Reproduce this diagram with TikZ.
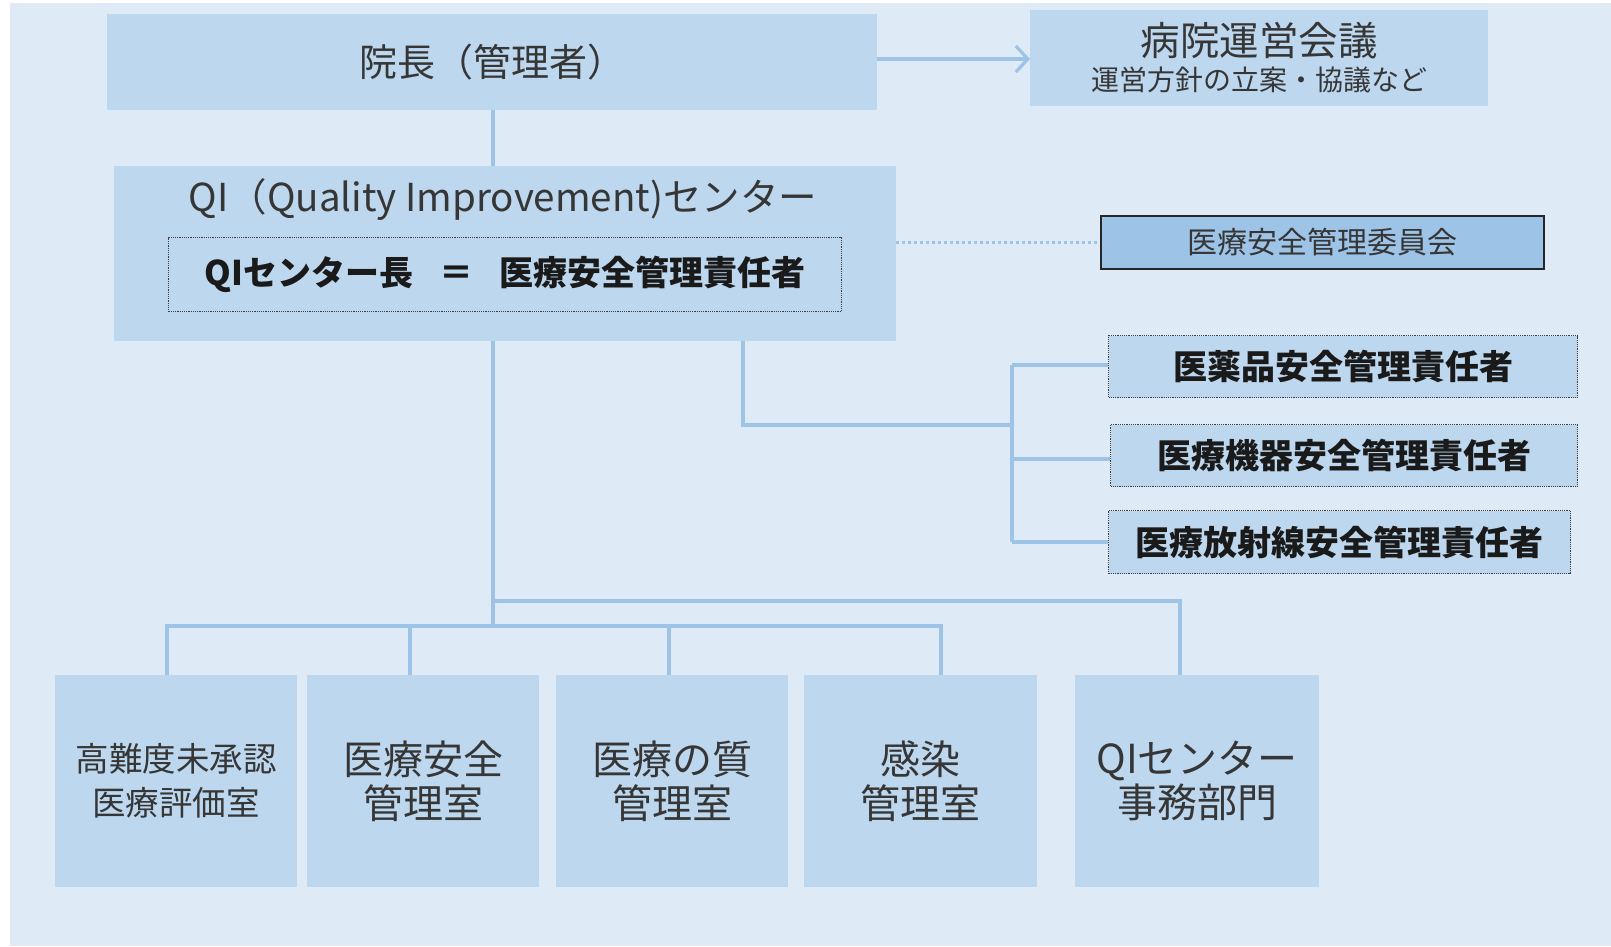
\documentclass[tikz,border=0pt]{standalone}
\usepackage{fontspec}
\setmainfont{Noto Sans CJK JP}
\usetikzlibrary{arrows.meta}
\definecolor{bg}{HTML}{DEEAF6}
\definecolor{boxfill}{HTML}{BDD7EE}
\definecolor{linec}{HTML}{9DC3E6}
\definecolor{comfill}{HTML}{9DC3E6}
\definecolor{txt}{HTML}{363636}
\definecolor{btxt}{HTML}{1A1A1A}
\newcommand\RB[7]{\node[#6,anchor=north west,minimum width={(#4-#2)*1pt},minimum height={(#5-#3)*1pt}] (#1) at (#2,#3) {#7};}
\begin{document}
\begin{tikzpicture}[x=1pt,y=-1pt,
  plain/.style={fill=boxfill,draw=none,inner sep=0pt,text=txt,align=center},
  dbox/.style={fill=boxfill,draw=black!75,densely dotted,line width=1.2pt,inner sep=0pt,text=btxt,align=center,font=\bfseries\fontsize{34}{38}\selectfont},
  combox/.style={fill=comfill,draw=black!85,line width=1.8pt,inner sep=0pt,text=txt,align=center,font=\fontsize{30}{34}\selectfont},
  lowbox/.style={plain,font=\fontsize{40}{44}\selectfont},
  conn/.style={draw=linec,line width=3.2pt},
  lbl/.style={inner sep=0pt,text=txt,align=center}]
\useasboundingbox (0,0) rectangle (1611,946);
\fill[white] (0,0) rectangle (1611,946);
\fill[bg] (10,3) rectangle (1611,946);
% top boxes
\RB{incho}{107}{14}{877}{110}{plain}{}
\node[lbl,font=\fontsize{38}{42}\selectfont] (inchot) at (492,62) {院長（管理者）};
\RB{unei}{1030}{10}{1488}{106}{plain}{}
\node[lbl,font=\fontsize{39.5}{42}\selectfont] (uneit) at (1259,41) {病院運営会議};
\node[lbl,font=\fontsize{28}{30}\selectfont] (uneis) at (1259,80) {運営方針の立案・協議など};
% QI center
\RB{qi}{114}{166}{896}{341}{plain}{}
\node[lbl,font=\fontsize{38.5}{42}\selectfont] (qit) at (503,200) {QI（Quality Improvement)センター};
\RB{qin}{168}{237}{841}{311}{dbox}{QIセンター長\hspace{26pt}＝\hspace{26pt}医療安全管理責任者}
% committee
\RB{com}{1100}{215}{1543}{268}{combox}{医療安全管理委員会}
% right responsible boxes
\RB{r1}{1108}{335}{1577}{397}{dbox}{医薬品安全管理責任者}
\RB{r2}{1110}{424}{1577}{486}{dbox}{医療機器安全管理責任者}
\RB{r3}{1108}{510}{1570}{573}{dbox}{医療放射線安全管理責任者}
% bottom boxes
\RB{b1}{55}{675}{297}{887}{plain,font=\fontsize{33.5}{44}\selectfont}{高難度未承認\\医療評価室}
\RB{b2}{307}{675}{539}{887}{lowbox}{医療安全\\管理室}
\RB{b3}{556}{675}{788}{887}{lowbox}{医療の質\\管理室}
\RB{b4}{804}{675}{1037}{887}{lowbox}{感染\\管理室}
\RB{b5}{1075}{675}{1319}{887}{lowbox}{QIセンター\\事務部門}
% connectors
\draw[conn,-{Straight Barb[length=12pt,width=26pt,line width=3.2pt]}] (incho.east |- 0,59) -- (unei.west |- 0,59);
\draw[conn] (493,110) -- (493,166);
\draw[draw=linec,line width=3pt,dash pattern=on 3pt off 3pt] (qi.east |- com.west) -- (com.west);
% right tree
\coordinate (rt) at (743,341);
\coordinate (rj) at (1012,425);
\draw[conn] (rt) |- (rj);
\draw[conn] (1012,365) -- (1012,542);
\draw[conn] (1012,365) -- (r1.west |- 0,365);
\draw[conn] (1012,459) -- (r2.west |- 0,459);
\draw[conn] (1012,542) -- (r3.west |- 0,542);
% bottom tree
\coordinate (mt) at (493,341);
\coordinate (bus) at (493,626);
\draw[conn] (mt) -- (bus);
\draw[conn,line width=4pt] (493,601) -| (1180,675);
\draw[conn] (167,675) |- (941,626) -- (941,675);
\draw[conn] (410,626) -- (410,675);
\draw[conn] (669,626) -- (669,675);
\end{tikzpicture}
\end{document}
